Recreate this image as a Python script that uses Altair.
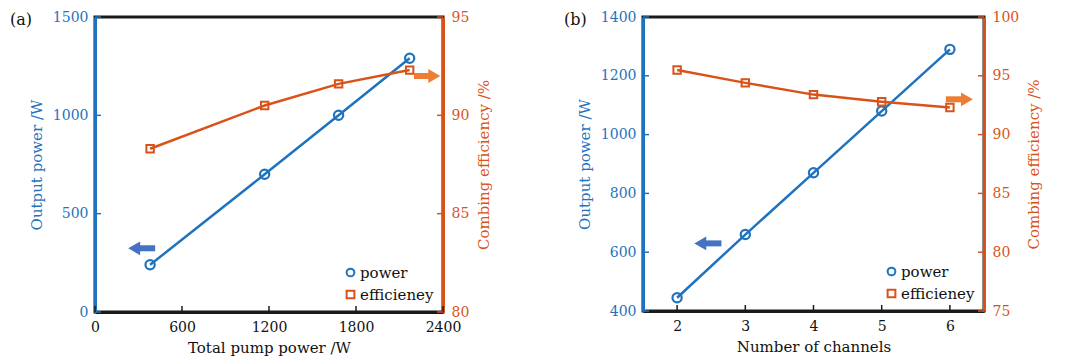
import altair as alt
import pandas as pd

# ---------------- data ----------------
# panel (a)
pump_a = [380, 1170, 1680, 2170]
power_a = [240, 700, 1000, 1290]
eff_a = [88.3, 90.5, 91.6, 92.3]
# panel (b)
channels_b = [2, 3, 4, 5, 6]
power_b = [445, 660, 870, 1080, 1290]
eff_b = [95.5, 94.4, 93.4, 92.8, 92.3]

series_names = ["power", "efficieney"]

xticks_a = [0, 600, 1200, 1800, 2400]
ptick_a = [0, 500, 1000, 1500]
etick_a = [80, 85, 90, 95]
xticks_b = [2, 3, 4, 5, 6]
ptick_b = [400, 600, 800, 1000, 1200, 1400]
etick_b = [75, 80, 85, 90, 95, 100]

# arrow annotations in data units: (head x, tail x, level)
arrow_power_a = (270, 415, 324)
arrow_eff_a = (2340, 2200, 92.0)
arrow_power_b = (2.34, 2.65, 630)
arrow_eff_b = (6.25, 5.94, 93.0)

FONT = "DejaVu Serif"
BLUE = "#1f72bd"
ORANGE = "#d95319"
ARROW_BLUE = "#4472c4"
ARROW_ORANGE = "#ed7d31"


def panel(tag, xs, pw, ef, x_title, x_dom, x_ticks, p_dom, p_ticks, e_dom, e_ticks,
          arr_p, arr_e, W, H, tag_dx):
    df_p = pd.DataFrame({"x": xs, "v": pw, "series": "power"})
    df_e = pd.DataFrame({"x": xs, "v": ef, "series": "efficieney"})

    x_axis = alt.Axis(values=x_ticks, title=x_title, ticks=False, grid=False, format="d",
                      domainColor="#1a1a1a", domainWidth=3, labelPadding=8, labelFlush=False,
                      titlePadding=6, labelColor="#111", titleColor="#111")
    p_axis = alt.Axis(values=p_ticks, title="Output power /W", orient="left", ticks=False,
                      grid=False, domainColor=BLUE, domainWidth=3, labelColor=BLUE, format="d",
                      titleColor=BLUE, labelPadding=7, titlePadding=8, labelFlush=False)
    e_axis = alt.Axis(values=e_ticks, title="Combing efficiency /%", orient="right",
                      ticks=False, grid=False, domainColor=ORANGE, domainWidth=3, format="d",
                      labelColor=ORANGE, titleColor=ORANGE, labelPadding=8, titlePadding=8,
                      titleAngle=270, titleBaseline="top", labelFlush=False)

    def X(f):
        return alt.X(f"{f}:Q", scale=alt.Scale(domain=x_dom, nice=False, zero=False), axis=x_axis)

    def YP(f):
        return alt.Y(f"{f}:Q", scale=alt.Scale(domain=p_dom, nice=False, zero=False), axis=p_axis)

    def YE(f):
        return alt.Y(f"{f}:Q", scale=alt.Scale(domain=e_dom, nice=False, zero=False), axis=e_axis)

    leg = alt.Legend(title=None, orient="bottom-right", offset=9, padding=0,
                     labelFont=FONT, labelFontSize=15, labelColor="#111",
                     symbolStrokeWidth=2, symbolSize=60, rowPadding=5, labelOffset=2)
    color = alt.Color("series:N", scale=alt.Scale(domain=series_names, range=[BLUE, ORANGE]),
                      legend=leg)
    shape = alt.Shape("series:N", scale=alt.Scale(domain=series_names, range=["circle", "square"]),
                      legend=leg)

    # power group (left axis)
    p_line = alt.Chart(df_p).mark_line(strokeWidth=2.5).encode(x=X("x"), y=YP("v"), color=color)
    p_pts = alt.Chart(df_p).mark_point(filled=False, size=85, strokeWidth=2.2, opacity=1).encode(
        x=X("x"), y=YP("v"), color=color, shape=shape)
    ap = pd.DataFrame({"h": [arr_p[0]], "t": [arr_p[1]], "lv": [arr_p[2]]})
    p_shaft = alt.Chart(ap).mark_rule(strokeWidth=6, color=ARROW_BLUE).encode(
        x=X("h"), x2="t", y=YP("lv"))
    p_head = alt.Chart(ap).mark_point(shape="triangle-left", filled=True, size=190,
                                      color=ARROW_BLUE, opacity=1).encode(x=X("h"), y=YP("lv"))
    ptk = pd.DataFrame({"pt": p_ticks})
    p_tk = alt.Chart(ptk).mark_rule(color=BLUE, strokeWidth=1.5).encode(
        y=YP("pt"), x=alt.value(0), x2=alt.value(6))
    xtk = pd.DataFrame({"xt": x_ticks})
    x_tk = alt.Chart(xtk).mark_rule(color="#1a1a1a", strokeWidth=1.5).encode(
        x=X("xt"), y=alt.value(H), y2=alt.value(H - 6))
    tagdf = pd.DataFrame({"tag": [tag]})
    tag_txt = alt.Chart(tagdf).mark_text(align="left", baseline="middle", font=FONT,
                                         fontSize=16, color="#111").encode(
        text="tag:N", x=alt.value(tag_dx), y=alt.value(3))
    p_group = alt.layer(p_line, p_pts, p_shaft, p_head, p_tk, x_tk)

    # efficiency group (right axis)
    e_line = alt.Chart(df_e).mark_line(strokeWidth=2.5).encode(x=X("x"), y=YE("v"), color=color)
    e_pts = alt.Chart(df_e).mark_point(filled=False, size=55, strokeWidth=2, opacity=1).encode(
        x=X("x"), y=YE("v"), color=color, shape=shape)
    ae = pd.DataFrame({"h": [arr_e[0]], "t": [arr_e[1]], "lv": [arr_e[2]]})
    e_shaft = alt.Chart(ae).mark_rule(strokeWidth=6, color=ARROW_ORANGE).encode(
        x=X("h"), x2="t", y=YE("lv"))
    e_head = alt.Chart(ae).mark_point(shape="triangle-right", filled=True, size=190,
                                      color=ARROW_ORANGE, opacity=1).encode(x=X("h"), y=YE("lv"))
    etk = pd.DataFrame({"et": e_ticks})
    e_tk = alt.Chart(etk).mark_rule(color=ORANGE, strokeWidth=1.5).encode(
        y=YE("et"), x=alt.value(W - 6), x2=alt.value(W))
    e_group = alt.layer(e_line, e_pts, e_shaft, e_head, e_tk)

    return alt.layer(p_group, e_group, tag_txt).resolve_scale(y="independent").properties(
        width=W, height=H)


pa = panel("(a)", pump_a, power_a, eff_a, "Total pump power /W", [0, 2400], xticks_a,
           [0, 1500], ptick_a, [80, 95], etick_a, arrow_power_a, arrow_eff_a, 348, 295, -85)
pb = panel("(b)", channels_b, power_b, eff_b, "Number of channels", [1.5, 6.5], xticks_b,
           [400, 1400], ptick_b, [75, 100], etick_b, arrow_power_b, arrow_eff_b, 341, 294, -79)

chart = alt.hconcat(pa, pb, spacing=68).resolve_scale(
    color="independent", shape="independent").properties(padding=0).configure_view(
    stroke="#1a1a1a", strokeWidth=3).configure_axis(
    labelFont=FONT, titleFont=FONT, labelFontSize=14, titleFontSize=15,
    titleFontWeight="normal").configure_legend(
    labelFont=FONT, labelFontSize=15, labelColor="#111")

chart.save("out.html", embed_options={"renderer": "svg", "actions": False})
